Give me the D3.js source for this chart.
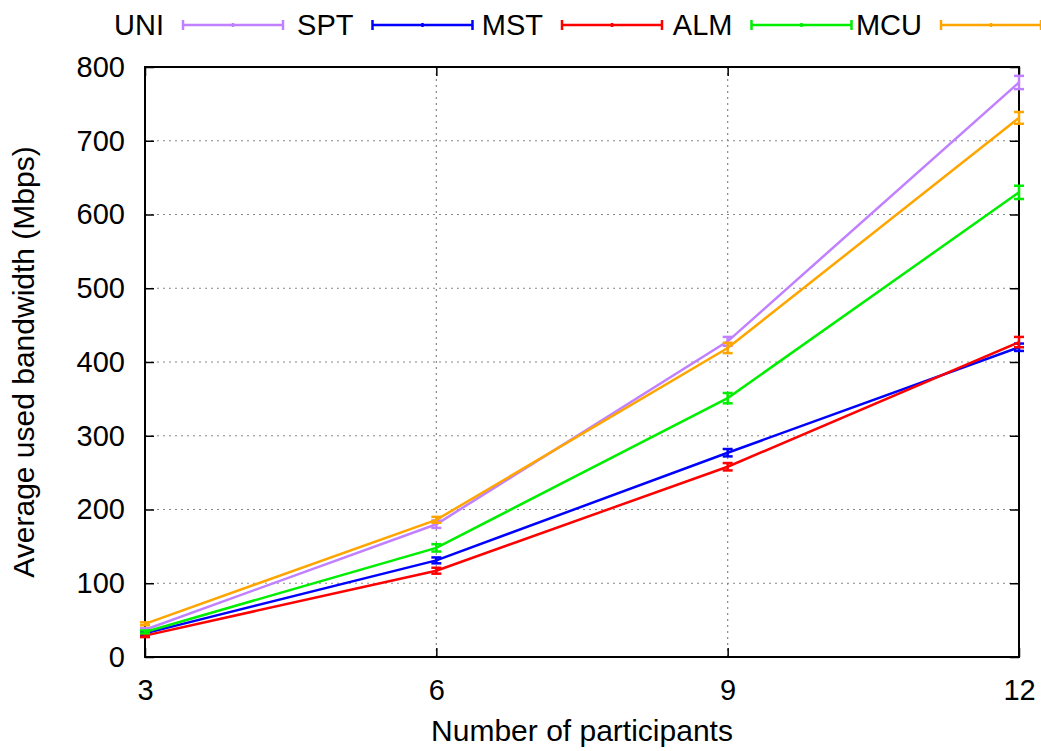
<!DOCTYPE html>
<html>
<head>
<meta charset="utf-8">
<script src="https://cdn.jsdelivr.net/npm/d3@7"></script>
<style>
  body { margin: 0; background: #fff; }
  svg { display: block; font-family: "Liberation Sans", Arial, sans-serif; }
</style>
</head>
<body>
<div id="chart"></div>
<script>
// participants on the x axis
const participants = [3, 6, 9, 12];
const yTicks = [0, 100, 200, 300, 400, 500, 600, 700, 800];

// mean bandwidth per scheme (Mbps)
const uniVals = [37, 180, 428, 779];
const sptVals = [32, 131, 277, 420];
const mstVals = [29, 117, 258, 427];
const almVals = [34, 148, 351, 630];
const mcuVals = [45, 186, 419, 731];

// half width of the error bars
const uniErr = [2, 5, 6, 9];
const sptErr = [2, 4, 5, 5];
const mstErr = [2, 4, 5, 7];
const almErr = [2, 5, 7, 9];
const mcuErr = [2, 4, 7, 8];

const seriesNames = ["UNI", "SPT", "MST", "ALM", "MCU"];
const seriesColors = ["#c080ff", "#0000ff", "#ff0000", "#00ee00", "#ffa500"];

const series = [
    { name: "UNI", vals: uniVals, err: uniErr },
    { name: "SPT", vals: sptVals, err: sptErr },
    { name: "MST", vals: mstVals, err: mstErr },
    { name: "ALM", vals: almVals, err: almErr },
    { name: "MCU", vals: mcuVals, err: mcuErr }
];

const W = 1041, H = 751;
const margin = { left: 145, right: 22, top: 67, bottom: 94 };
const plotW = W - margin.left - margin.right;
const plotH = H - margin.top - margin.bottom;
const fontSize = '29px';

const svg = d3.select('#chart').append('svg')
    .attr('width', W)
    .attr('height', H);

const x = d3.scaleLinear().domain([3, 12]).range([0, plotW]);
const y = d3.scaleLinear().domain([0, 800]).range([plotH, 0]);

const g = svg.append('g').attr('transform', `translate(${margin.left},${margin.top})`);

// dotted grid
g.append('g').selectAll('line')
    .data(yTicks.slice(1, -1))
    .join('line')
    .attr('x1', 0).attr('x2', plotW)
    .attr('y1', d => y(d)).attr('y2', d => y(d))
    .style('stroke', '#888')
    .style('stroke-width', 1.2)
    .style('stroke-dasharray', '2,4');

g.append('g').selectAll('line')
    .data(participants.slice(1, -1))
    .join('line')
    .attr('x1', d => x(d)).attr('x2', d => x(d))
    .attr('y1', 0).attr('y2', plotH)
    .style('stroke', '#888')
    .style('stroke-width', 1.2)
    .style('stroke-dasharray', '2,4');

// axes with inward ticks, mirrored on the other side
const tickLen = 9;
const axisLeft = g.append('g')
    .call(d3.axisLeft(y).tickValues(yTicks).tickSizeInner(-tickLen).tickSizeOuter(0).tickPadding(20));
const axisRight = g.append('g').attr('transform', `translate(${plotW},0)`)
    .call(d3.axisRight(y).tickValues(yTicks).tickSizeInner(-tickLen).tickSizeOuter(0).tickFormat(''));
const axisBottom = g.append('g').attr('transform', `translate(0,${plotH})`)
    .call(d3.axisBottom(x).tickValues(participants).tickSizeInner(-tickLen).tickSizeOuter(0).tickPadding(22));
const axisTop = g.append('g')
    .call(d3.axisTop(x).tickValues(participants).tickSizeInner(-tickLen).tickSizeOuter(0).tickFormat(''));

[axisLeft, axisRight, axisBottom, axisTop].forEach(a => {
    a.select('.domain').remove();
    a.selectAll('line').style('stroke', '#000').style('stroke-width', 1.5);
    a.selectAll('text').style('font-size', fontSize).style('fill', '#000')
        .style('font-family', '"Liberation Sans", Arial, sans-serif');
});

// frame
g.append('rect')
    .attr('x', 0).attr('y', 0)
    .attr('width', plotW).attr('height', plotH)
    .style('fill', 'none')
    .style('stroke', '#000')
    .style('stroke-width', 2);

// lines
const line = d3.line()
    .x((d, i) => x(participants[i]))
    .y(d => y(d));

series.forEach((s, si) => {
    const color = seriesColors[si];
    g.append('path')
        .datum(s.vals)
        .attr('d', line)
        .style('fill', 'none')
        .style('stroke', color)
        .style('stroke-width', 2.5);

    const eb = g.append('g');
    s.vals.forEach((v, i) => {
        const px = x(participants[i]);
        const lo = y(v - s.err[i]), hi = y(v + s.err[i]);
        eb.append('line').attr('x1', px).attr('x2', px).attr('y1', lo).attr('y2', hi);
        eb.append('line').attr('x1', px - 5).attr('x2', px + 5).attr('y1', lo).attr('y2', lo);
        eb.append('line').attr('x1', px - 5).attr('x2', px + 5).attr('y1', hi).attr('y2', hi);
    });
    eb.selectAll('line').style('stroke', color).style('stroke-width', 2.5);
});

// legend across the top
const legendY = 25;
const legend = svg.append('g');
seriesNames.forEach((name, i) => {
    const x0 = 183 + i * 189.5;
    const lg = legend.append('g').attr('transform', `translate(${x0},${legendY})`);
    lg.append('text')
        .attr('x', -19).attr('y', 10)
        .attr('text-anchor', 'end')
        .style('font-size', fontSize)
        .text(name);
    lg.append('line').attr('x1', 0).attr('x2', 100).attr('y1', 0).attr('y2', 0);
    lg.append('line').attr('x1', 0).attr('x2', 0).attr('y1', -5).attr('y2', 5);
    lg.append('line').attr('x1', 100).attr('x2', 100).attr('y1', -5).attr('y2', 5);
    lg.append('line').attr('x1', 50).attr('x2', 50).attr('y1', -2).attr('y2', 2);
    lg.selectAll('line').style('stroke', seriesColors[i]).style('stroke-width', 2.5);
});

// axis titles
svg.append('text')
    .attr('x', margin.left + plotW / 2)
    .attr('y', 741)
    .attr('text-anchor', 'middle')
    .style('font-size', '30px')
    .text('Number of participants');

svg.append('text')
    .attr('transform', `translate(34,${margin.top + plotH / 2}) rotate(-90)`)
    .attr('text-anchor', 'middle')
    .style('font-size', '30px')
    .text('Average used bandwidth (Mbps)');
</script>
</body>
</html>
